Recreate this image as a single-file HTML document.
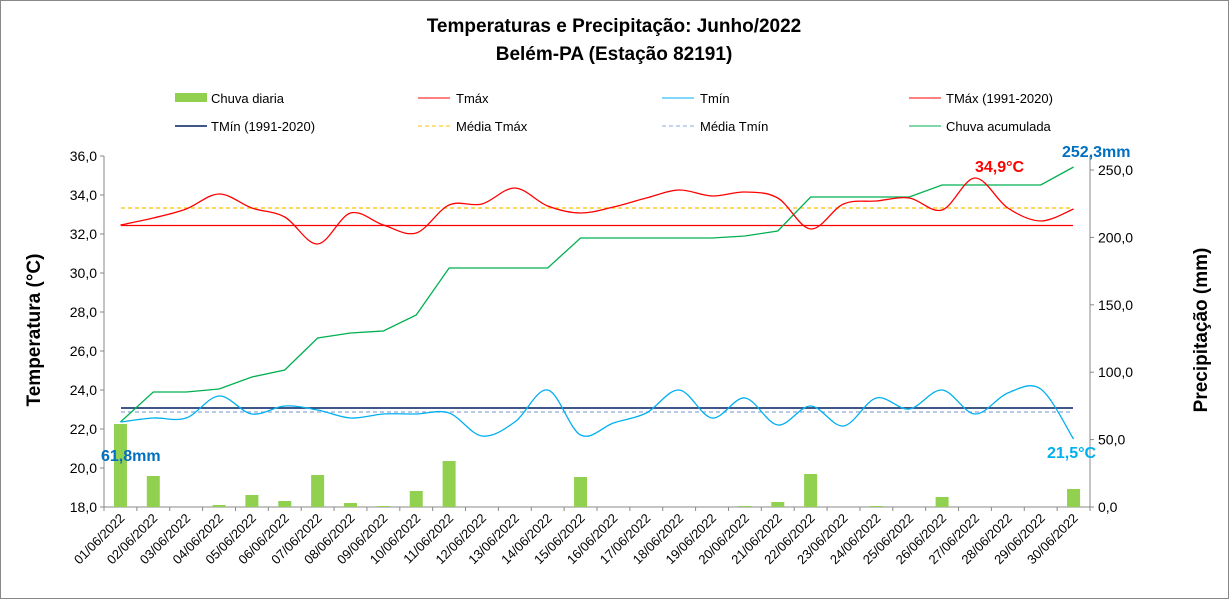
<!DOCTYPE html>
<html><head><meta charset="utf-8"><style>
body{margin:0;background:#fff;}
svg{display:block;font-family:"Liberation Sans",sans-serif;}
</style></head><body>
<svg id="s" width="1229" height="599" xmlns="http://www.w3.org/2000/svg">
<rect x="0.5" y="0.5" width="1228" height="598" fill="#fff" stroke="#888"/>
<text x="614" y="32" text-anchor="middle" font-size="19" font-weight="bold">Temperaturas e Precipitação: Junho/2022</text>
<text x="614" y="60" text-anchor="middle" font-size="19" font-weight="bold">Belém-PA (Estação 82191)</text>
<g font-size="13" fill="#000">
<rect x="175" y="93" width="32" height="9" fill="#92D050"/><text x="211" y="103">Chuva diaria</text>
<line x1="418" y1="98" x2="450" y2="98" stroke="#FF0000"/><text x="456" y="103">Tmáx</text>
<line x1="662" y1="98" x2="694" y2="98" stroke="#00B0F0"/><text x="700" y="103">Tmín</text>
<line x1="909" y1="98" x2="941" y2="98" stroke="#FF0000"/><text x="946" y="103">TMáx (1991-2020)</text>
<line x1="175" y1="126" x2="207" y2="126" stroke="#002060" stroke-width="1.5"/><text x="211" y="131">TMín (1991-2020)</text>
<line x1="418" y1="126" x2="450" y2="126" stroke="#FFC000" stroke-dasharray="4,3"/><text x="456" y="131">Média Tmáx</text>
<line x1="662" y1="126" x2="694" y2="126" stroke="#8EA9DB" stroke-dasharray="4,3"/><text x="700" y="131">Média Tmín</text>
<line x1="909" y1="126" x2="941" y2="126" stroke="#00B050"/><text x="946" y="131">Chuva acumulada</text>
</g>
<g id="axes" stroke="#888" fill="none"></g>
<g id="labels" font-size="13"></g>
<g id="bars" fill="#92D050"></g>
<line x1="121" y1="225.5" x2="1073" y2="225.5" stroke="#FF0000" stroke-width="1.3"/>
<line x1="121" y1="208" x2="1073" y2="208" stroke="#FFC000" stroke-width="1.3" stroke-dasharray="4,3"/>
<line x1="121" y1="408" x2="1073" y2="408" stroke="#002060" stroke-width="1.5"/>
<line x1="121" y1="412" x2="1073" y2="412" stroke="#8EA9DB" stroke-width="1.3" stroke-dasharray="4,3"/>
<g id="lines" fill="none"></g>
<text transform="translate(40,330) rotate(-90)" text-anchor="middle" font-size="19" font-weight="bold">Temperatura (°C)</text>
<text transform="translate(1207,330) rotate(-90)" text-anchor="middle" font-size="19" font-weight="bold">Precipitação (mm)</text>
<g font-size="16" font-weight="bold">
<text x="101" y="461" fill="#0070C0">61,8mm</text>
<text x="975" y="172" fill="#FF0000">34,9°C</text>
<text x="1062" y="157" fill="#0070C0">252,3mm</text>
<text x="1047" y="458" fill="#00B0F0">21,5°C</text>
</g>
</svg>
<script>
var NS="http://www.w3.org/2000/svg";
function el(p,t,a,txt){var e=document.createElementNS(NS,t);for(var k in a)e.setAttribute(k,a[k]);if(txt!=null)e.textContent=txt;document.getElementById(p).appendChild(e);return e;}
var X0=104,X1=1090,YT=156,YB=507,step=(X1-X0)/30;
function cx(i){return X0+step*(i+0.5);}
el("axes","line",{x1:X0,y1:YT,x2:X0,y2:YB});
el("axes","line",{x1:X1,y1:YT,x2:X1,y2:YB});
el("axes","line",{x1:X0,y1:YB,x2:X1,y2:YB});
for(var k=0;k<=9;k++){var y=YT+k*39;el("axes","line",{x1:X0-4,y1:y,x2:X0,y2:y});
 el("labels","text",{x:X0-7,y:y+5,"text-anchor":"end","font-size":14},(36-2*k).toFixed(1).replace(".",","));}
for(var k=0;k<=5;k++){var y=YB-k*67.4;el("axes","line",{x1:X1,y1:y,x2:X1+4,y2:y});
 el("labels","text",{x:X1+8,y:y+5,"font-size":14},(k*50).toFixed(1).replace(".",","));}
for(var i=0;i<=30;i++){var x=X0+step*i;el("axes","line",{x1:x,y1:YB,x2:x,y2:YB+4});}
for(var i=0;i<30;i++){var d=("0"+(i+1)).slice(-2)+"/06/2022";var x=cx(i)+5,y=YB+12;
 el("labels","text",{x:x,y:y,"text-anchor":"end",transform:"rotate(-45 "+x+" "+y+")"},d);}
var bars={1:424,2:476,4:505,5:495,6:501,7:475,8:503,9:506,10:491,11:461,15:477,20:506,21:502,22:474,24:506,26:497,30:489};
for(var d in bars){el("bars","rect",{x:cx(d-1)-6.5,y:bars[d],width:13,height:YB-bars[d]});}
var tmax=[225,218,209,194,208,217,244,213,225,233,205,204,188,206,213,207,198,190,196,192,198,229,204,201,198,210,178,208,221,209];
var tmin=[422,418,418,396,414,406,410,418,414,414,413,436,422,390,435,423,413,390,418,398,425,406,426,398,409,390,414,393,389,439];
var acc=[422,392,392,389,377,370,338,333,331,315,268,268,268,268,238,238,238,238,238,236,231,197,197,197,197,185,185,185,185,167];
function smooth(v){var p=v.map(function(y,i){return [cx(i),y];});var s="M"+p[0][0]+","+p[0][1];
 for(var i=0;i<p.length-1;i++){var p0=p[i-1]||p[i],p1=p[i],p2=p[i+1],p3=p[i+2]||p[i+1];var t=6;
 s+=" C"+(p1[0]+(p2[0]-p0[0])/t)+","+(p1[1]+(p2[1]-p0[1])/t)+" "+(p2[0]-(p3[0]-p1[0])/t)+","+(p2[1]-(p3[1]-p1[1])/t)+" "+p2[0]+","+p2[1];}return s;}
function poly(v){return "M"+v.map(function(y,i){return cx(i)+","+y;}).join(" L");}
el("lines","path",{d:poly(acc),stroke:"#00B050","stroke-width":1.3});
el("lines","path",{d:smooth(tmax),stroke:"#FF0000","stroke-width":1.3});
el("lines","path",{d:smooth(tmin),stroke:"#00B0F0","stroke-width":1.3});
</script>
</body></html>
